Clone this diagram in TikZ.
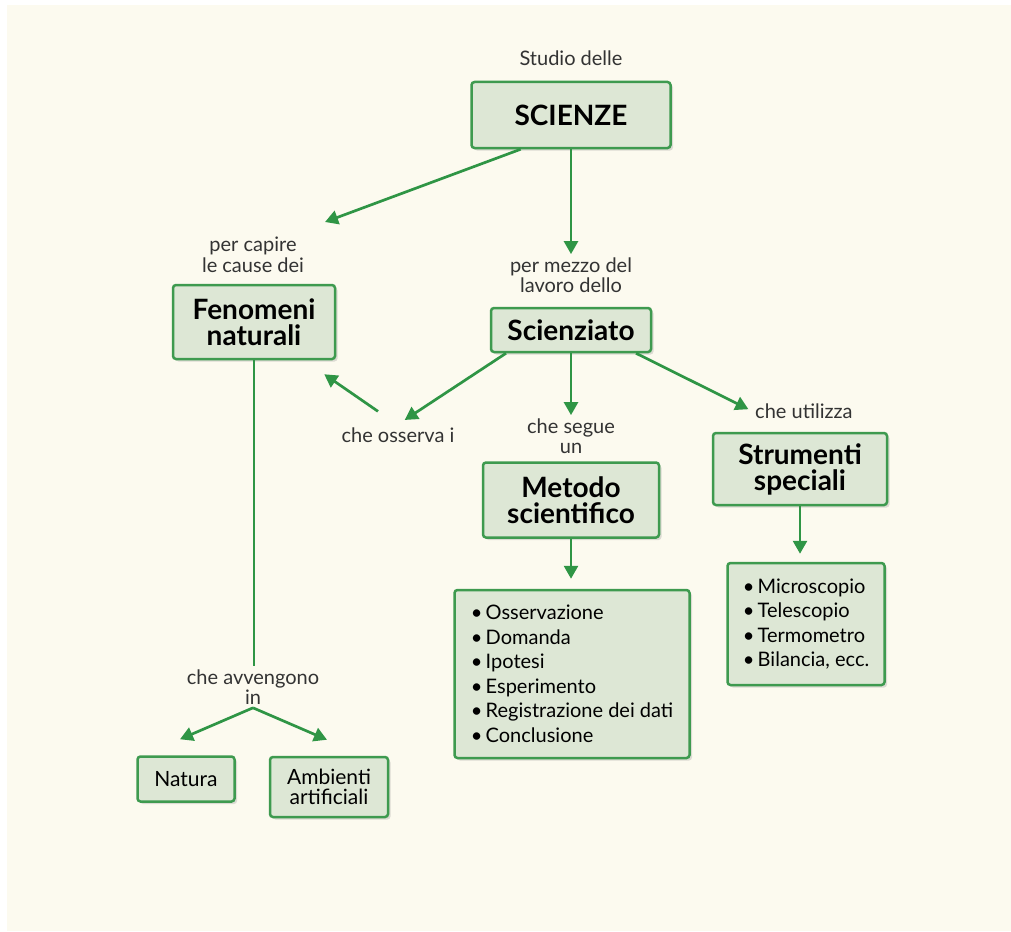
\documentclass[tikz,border=0pt]{standalone}
\usepackage{fontspec}
\setmainfont{Lato}
\usetikzlibrary{arrows.meta,calc,shadows}
\definecolor{bggreen}{HTML}{FCFAEF}
\definecolor{boxgreen}{HTML}{3E9A4F}
\definecolor{boxfill}{HTML}{DDE7D5}
\definecolor{arrgreen}{HTML}{2F9545}
\tikzset{
	box/.style={draw=boxgreen,line width=2.5pt,fill=boxfill,rounded corners=3pt,align=center,
		drop shadow={shadow xshift=2.5pt,shadow yshift=-2.5pt,opacity=.25}},
	head/.style={box,font=\bfseries\fontsize{28}{26}\selectfont},
	listbox/.style={box,align=left,font=\fontsize{20}{24.5}\selectfont},
	smallbox/.style={box,font=\fontsize{21}{20}\selectfont},
	lbl/.style={align=center,inner sep=3pt,text=black!80,font=\fontsize{20}{20.5}\selectfont},
	arr/.style={arrgreen,line width=2.7pt,-{Triangle[length=13pt,width=14pt]}},
	ln/.style={arrgreen,line width=2.7pt}
}
\begin{document}
\begin{tikzpicture}[x=1pt,y=-1pt]
	\useasboundingbox[fill=white](0,0) rectangle (1011,931);
	\fill[bggreen](7,5) rectangle (1011,931);
	\node[lbl] (studio) at (571,58) {Studio delle};
	\node[head,font=\bfseries\fontsize{28}{30}\selectfont,minimum width=199pt,minimum height=66pt] (sci) at (571,115) {SCIENZE};
	\node[lbl] (capire) at (253,255) {per capire\\le cause dei};
	\node[head,minimum width=162pt,minimum height=74pt] (fen) at (254,322) {Fenomeni\\naturali};
	\node[lbl] (mezzo) at (571,275) {per mezzo del\\lavoro dello};
	\node[head,minimum width=160pt,minimum height=44pt] (scz) at (571,330) {Scienziato};
	\node[lbl] (osserva) at (398,435) {che osserva i};
	\node[lbl] (segue) at (571,436) {che segue\\un};
	\node[lbl,anchor=west] (utilizza) at (752,411) {che utilizza};
	\node[head,minimum width=176pt,minimum height=75pt] (met) at (571,500) {Metodo\\scientifico};
	\node[head,minimum width=174pt,minimum height=72pt] (str) at (800,469) {Strumenti\\speciali};
	\node[listbox,minimum width=235pt,minimum height=168pt] (metlist) at (572,674)
		{\textbullet\,Osservazione\\\textbullet\,Domanda\\\textbullet\,Ipotesi\\\textbullet\,Esperimento\\\textbullet\,Registrazione dei dati\\\textbullet\,Conclusione};
	\node[listbox,minimum width=157pt,minimum height=122pt] (strlist) at (806,624)
		{\textbullet\,Microscopio\\\textbullet\,Telescopio\\\textbullet\,Termometro\\\textbullet\,Bilancia, ecc.};
	\node[lbl] (avv) at (253,687) {che avvengono\\in};
	\node[smallbox,minimum width=97pt,minimum height=45pt] (nat) at (186,779) {Natura};
	\node[smallbox,minimum width=118pt,minimum height=60pt] (amb) at (329,787) {Ambienti\\artificiali};

	\coordinate (capiretip) at (325,222);
	\draw[arr] ($(sci.south west)!.25!(sci.south east)$) -- (capiretip);
	\draw[arr] (sci.south) -- (sci.south |- mezzo.north);
	\draw[arr,shorten >=8pt] ($(scz.south west)!.1!(scz.south east)$) -- (osserva.north);
	\draw[arr] (scz.south) -- (scz.south |- segue.north);
	\draw[arr,shorten >=4pt] ($(scz.south west)!.9!(scz.south east)$) -- (utilizza.west);
	\draw[arr] ($(osserva.north)+(-20,-13)$) -- ($(fen.south east)+(-12,14)$);
	\draw[arr,shorten >=10pt] (met.south) -- (met.south |- metlist.north);
	\draw[arr,shorten >=8pt] (str.south) -- (str.south |- strlist.north);
	\draw[ln] (fen.south) -- (fen.south |- avv.north);
	\draw[arr] (avv.south) -- ($(nat.north)+(-6,-16)$);
	\draw[arr] (avv.south) -- ($(amb.north)+(-2,-16)$);
\end{tikzpicture}
\end{document}
